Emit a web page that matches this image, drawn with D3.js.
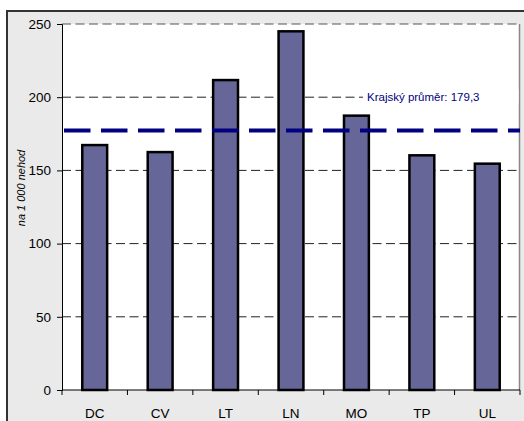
<!DOCTYPE html>
<html><head><meta charset="utf-8">
<script src="https://cdn.jsdelivr.net/npm/d3@7"></script>
<style>body{margin:0;background:#fff}svg{display:block}</style>
</head><body>
<script>
const categories = ["DC","CV","LT","LN","MO","TP","UL"];
const values = [167.3, 162.5, 211.7, 245, 187.4, 160.3, 154.6];
const yTicks = [0,50,100,150,200,250];
const averageLine = 177.2;
const averageLabel = "Krajský průměr: 179,3";
const yTitle = "na 1 000 nehod";

const W=524,H=421;
const m={left:62,top:24,right:520,bottom:390};
const font="Liberation Sans, Arial, sans-serif";
const svg=d3.select("body").append("svg").attr("width",W).attr("height",H);
svg.append("rect").attr("x",7).attr("y",11).attr("width",W).attr("height",H).attr("fill","#eaeaea").attr("stroke","#333").attr("stroke-width",2);
svg.append("rect").attr("x",m.left).attr("y",m.top).attr("width",m.right-m.left).attr("height",m.bottom-m.top).attr("fill","#fff");

const x=d3.scaleBand().domain(categories).range([m.left,m.right]).paddingInner(0.62).paddingOuter(0.31);
const y=d3.scaleLinear().domain([0,250]).range([m.bottom,m.top]);

// grid
svg.append("g").selectAll("line").data(yTicks.filter(d=>d>0)).join("line")
 .attr("x1",m.left).attr("x2",m.right).attr("y1",d=>y(d)).attr("y2",d=>y(d))
 .attr("stroke",d=>d===250?"#555":"#222").attr("stroke-width",1).attr("stroke-dasharray","9,4.5");
svg.append("line").attr("x1",m.right-0.5).attr("x2",m.right-0.5).attr("y1",m.top).attr("y2",m.bottom).attr("stroke","#888").attr("stroke-width",1.5);

// label background and label
svg.append("rect").attr("x",363).attr("y",y(200)-8).attr("width",m.right-1.5-363).attr("height",14).attr("fill","#fff");
svg.append("text").attr("x",367).attr("y",y(200)+3.5).attr("fill","#000080")
 .attr("font-family",font).attr("font-size",11.5).text(averageLabel);

// bars
svg.append("g").selectAll("rect").data(values).join("rect")
 .attr("x",(d,i)=>x(categories[i])).attr("width",x.bandwidth())
 .attr("y",d=>y(d)).attr("height",d=>y(0)-y(d))
 .attr("fill","#666699").attr("stroke","#000").attr("stroke-width",2.5);

// average line
svg.append("line").attr("x1",m.left).attr("x2",m.right).attr("y1",y(averageLine)).attr("y2",y(averageLine))
 .attr("stroke","#000080").attr("stroke-width",4).attr("stroke-dasharray","26.5,10.5").attr("stroke-dashoffset",-2);

// axes
const ya=svg.append("g").attr("transform",`translate(${m.left},0)`)
 .call(d3.axisLeft(y).tickValues(yTicks).tickSize(5).tickPadding(6));
ya.selectAll("text").attr("font-family",font).attr("font-size",13.5).attr("fill","#000");
ya.select(".domain").attr("stroke","#000");

const xa=svg.append("g").attr("transform",`translate(0,${m.bottom})`);
xa.append("line").attr("x1",m.left).attr("x2",m.right).attr("stroke","#000");
const bounds=categories.map(c=>x(c)-x.step()*x.paddingInner()/2).concat([m.right]);
xa.selectAll("line.t").data(bounds).join("line").attr("class","t")
 .attr("x1",d=>d).attr("x2",d=>d).attr("y1",0).attr("y2",5).attr("stroke","#000");
xa.selectAll("text").data(categories).join("text")
 .attr("x",d=>x(d)+x.bandwidth()/2).attr("y",27.5).attr("text-anchor","middle")
 .attr("font-family",font).attr("font-size",13.5).text(d=>d);

svg.append("text").attr("transform","translate(24.5,188) rotate(-90)").attr("text-anchor","middle")
 .attr("font-family",font).attr("font-size",11).attr("font-style","italic").text(yTitle);
</script>
</body></html>
